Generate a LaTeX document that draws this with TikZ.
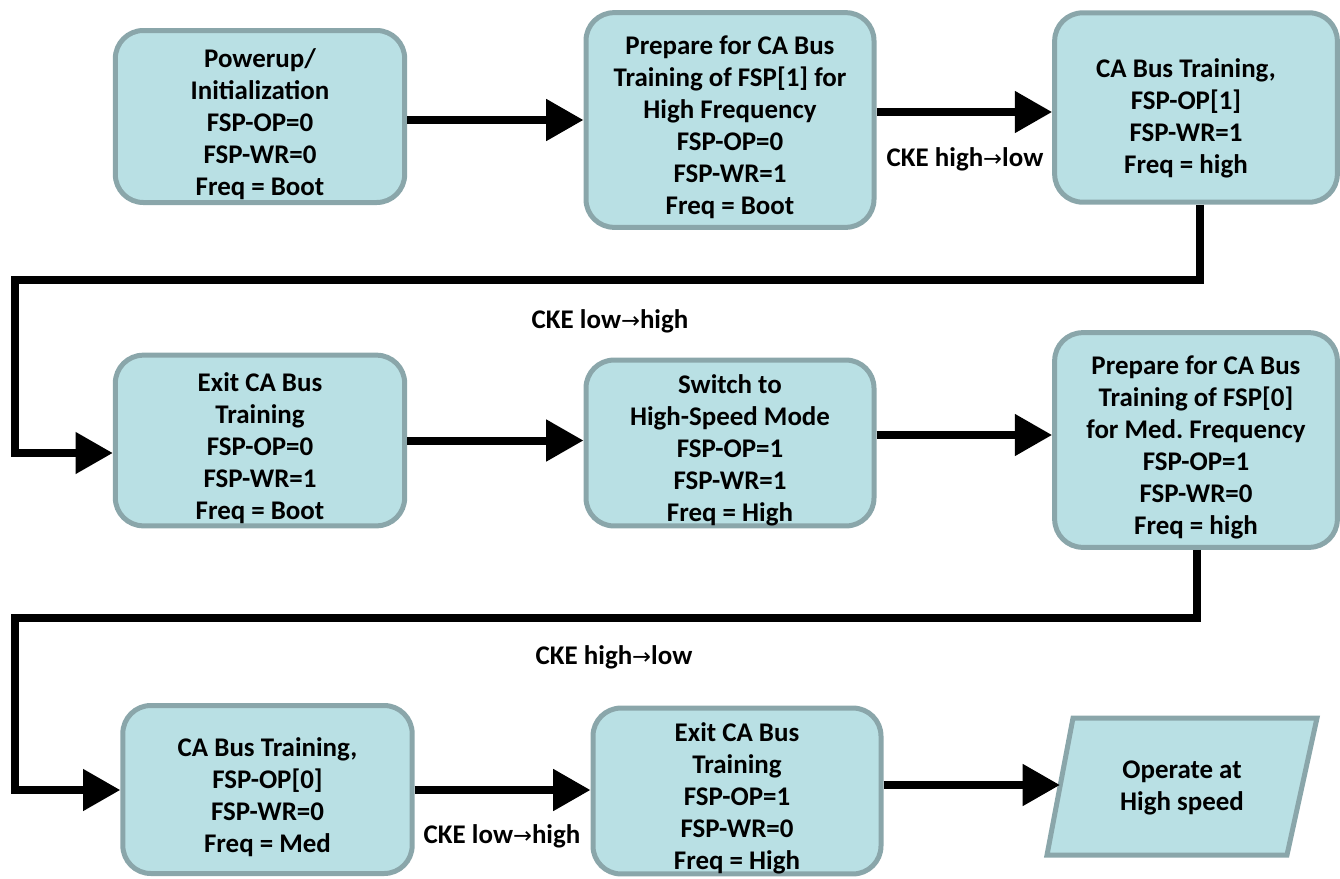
\documentclass[tikz,border=0pt]{standalone}
\usepackage{fontspec}
\setmainfont{Carlito}
\newfontfamily\arrowfont{DejaVu Sans}
\usetikzlibrary{arrows.meta}
\definecolor{boxfill}{RGB}{185,224,228}
\definecolor{boxline}{RGB}{138,166,170}
\newcommand{\ra}{{\arrowfont\mdseries\fontsize{17}{24}\selectfont →}}
\newcommand{\topstrut}{\rule{0pt}{25pt}}
\begin{document}
\begin{tikzpicture}[x=0.75pt,y=-0.75pt,
  txt/.style={font=\bfseries\fontsize{20.2}{24}\selectfont, align=center},
  box/.style={txt, draw=boxline, fill=boxfill, line width=3.75pt, rounded corners=21pt, inner sep=0pt},
  arr/.style={line width=6pt, -{Triangle[length=28pt,width=30pt]}}]
\useasboundingbox (0,0) rectangle (1340,879);

\node[box, minimum width=217pt, minimum height=129pt] (b1) at (260,116.5)
  {\topstrut Powerup/\\Initialization\\FSP-OP=0\\FSP-WR=0\\Freq = Boot};
\node[box, minimum width=216pt, minimum height=161pt] (b2) at (730,120)
  {\topstrut Prepare for CA Bus\\Training of FSP[1] for\\High Frequency\\FSP-OP=0\\FSP-WR=1\\Freq = Boot};
\node[box, minimum width=212pt, minimum height=142pt] (b3) at (1196,107.5) {};
\node[txt] (t3) at (1186,118) {CA Bus Training,\\FSP-OP[1]\\FSP-WR=1\\Freq = high};

\node[box, minimum width=217pt, minimum height=128pt] (b4) at (260,440.5)
  {\topstrut Exit CA Bus\\Training\\FSP-OP=0\\FSP-WR=1\\Freq = Boot};
\node[box, minimum width=216pt, minimum height=124pt] (b5) at (730,443)
  {\topstrut Switch to\\High-Speed Mode\\FSP-OP=1\\FSP-WR=1\\Freq = High};
\node[box, minimum width=212pt, minimum height=161pt] (b6) at (1196,440)
  {\topstrut Prepare for CA Bus\\Training of FSP[0]\\for Med.\ Frequency\\FSP-OP=1\\FSP-WR=0\\Freq = high};

\node[box, minimum width=217pt, minimum height=126pt] (b7) at (267.5,789.5)
  {\topstrut CA Bus Training,\\FSP-OP[0]\\FSP-WR=0\\Freq = Med};
\node[box, minimum width=216pt, minimum height=124pt] (b8) at (737,791)
  {\topstrut Exit CA Bus\\Training\\FSP-OP=1\\FSP-WR=0\\Freq = High};

\draw[draw=boxline, fill=boxfill, line width=3.75pt]
  (1073,718) -- (1317,718) -- (1287,855) -- (1047,855) -- cycle;
\node[txt] (p) at (1182,788) {Operate at\\High speed};
\coordinate (pin) at (1060,785);

% connectors
\draw[arr] (b1.east |- b2.west) -- (b2.west);
\draw[arr] (b2.east |- 0,112) -- (b3.west |- 0,112);
\coordinate (k1) at (15,280);
\coordinate (k2) at (15,453);
\draw[arr] (b3.south -| 1200,0) |- (k1) -- (k2) -- (k2 -| b4.west);
\draw[arr] (b4.east) -- (b5.west |- b4.east);
\draw[arr] (b5.east |- 0,435) -- (b6.west |- 0,435);
\coordinate (k3) at (15,618);
\coordinate (k4) at (15,790);
\draw[arr] (b6.south -| 1197,0) |- (k3) -- (k4) -- (k4 -| b7.west);
\draw[arr] (b7.east |- k4) -- (b8.west |- k4);
\draw[arr] (b8.east |- pin) -- (pin);

% labels
\node[txt] (l1) at (965,159) {CKE high\ra low};
\node[txt] (l2) at (610,321) {CKE low\ra high};
\node[txt] (l3) at (614,657) {CKE high\ra low};
\node[txt] (l4) at (502,836) {CKE low\ra high};
\end{tikzpicture}
\end{document}
